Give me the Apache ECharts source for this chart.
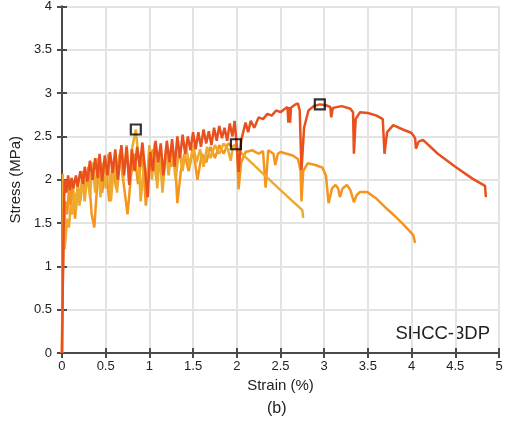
<!DOCTYPE html>
<html><head><meta charset="utf-8">
<script src="https://cdn.jsdelivr.net/npm/echarts@6/dist/echarts.min.js"></script>
<style>html,body{margin:0;padding:0;background:#fff}#c{width:508px;height:425px}</style>
</head><body><div id="c"></div>
<script>
var xTicks = ['0','0.5','1','1.5','2','2.5','3','3.5','4','4.5','5'];
var yTicks = ['0','0.5','1','1.5','2','2.5','3','3.5','4'];

var redCurve = [[0,0],[0.01,0.8],[0.02,1.5],[0.03,2.0],[0.05,1.85],[0.07,2.05],[0.09,1.88],[0.11,2.02],[0.13,1.9],[0.16,2.05],[0.18,1.92],[0.21,2.1],[0.24,1.95],[0.26,2.15],[0.29,1.98],[0.32,2.22],[0.35,2.0],[0.38,2.25],[0.41,2.02],[0.43,2.3],[0.46,1.98],[0.49,2.28],[0.52,2.05],[0.55,2.32],[0.58,2.08],[0.61,2.35],[0.64,2.0],[0.68,2.4],[0.71,2.05],[0.74,2.38],[0.77,1.94],[0.8,2.35],[0.83,2.1],[0.86,2.38],[0.89,2.15],[0.92,2.43],[0.95,2.12],[0.98,1.8],[1.01,2.32],[1.04,2.1],[1.07,2.45],[1.1,2.2],[1.13,2.42],[1.16,2.05],[1.2,2.45],[1.23,2.2],[1.26,2.47],[1.29,2.15],[1.32,2.5],[1.35,2.25],[1.38,2.52],[1.41,2.3],[1.44,2.5],[1.47,2.34],[1.5,2.55],[1.53,2.35],[1.56,2.55],[1.59,2.38],[1.62,2.58],[1.65,2.42],[1.68,2.56],[1.71,2.4],[1.74,2.6],[1.77,2.45],[1.8,2.62],[1.83,2.48],[1.86,2.6],[1.89,2.45],[1.92,2.65],[1.95,2.5],[1.975,2.68],[2.0,2.4],[2.02,2.09],[2.05,2.45],[2.1,2.66],[2.13,2.55],[2.16,2.68],[2.2,2.6],[2.25,2.72],[2.3,2.7],[2.35,2.76],[2.4,2.74],[2.45,2.8],[2.5,2.78],[2.55,2.82],[2.58,2.84],[2.59,2.66],[2.6,2.84],[2.61,2.66],[2.62,2.83],[2.67,2.87],[2.7,2.88],[2.72,2.8],[2.74,2.11],[2.77,2.6],[2.82,2.8],[2.88,2.85],[2.95,2.87],[3.02,2.86],[3.07,2.84],[3.08,2.72],[3.1,2.83],[3.2,2.85],[3.3,2.82],[3.33,2.78],[3.34,2.3],[3.36,2.7],[3.41,2.78],[3.5,2.77],[3.6,2.74],[3.67,2.7],[3.69,2.3],[3.72,2.55],[3.79,2.63],[3.9,2.58],[4.0,2.54],[4.04,2.48],[4.05,2.36],[4.08,2.44],[4.13,2.46],[4.3,2.3],[4.5,2.15],[4.7,2.01],[4.84,1.93],[4.85,1.8]];

var orangeCurve = [[0,0],[0.01,0.9],[0.02,1.3],[0.04,1.75],[0.06,1.6],[0.08,1.9],[0.1,1.7],[0.12,2.0],[0.15,1.55],[0.18,1.95],[0.21,1.75],[0.24,2.1],[0.27,1.85],[0.3,2.15],[0.34,1.6],[0.37,1.45],[0.4,1.9],[0.43,2.2],[0.46,1.85],[0.5,2.2],[0.54,1.75],[0.58,2.15],[0.62,1.9],[0.66,2.3],[0.7,2.0],[0.75,1.6],[0.79,2.05],[0.83,2.3],[0.87,1.95],[0.92,2.3],[0.96,1.7],[1.0,2.2],[1.04,2.35],[1.08,2.0],[1.12,2.3],[1.16,2.05],[1.2,2.35],[1.25,2.15],[1.29,2.3],[1.32,1.73],[1.36,2.1],[1.4,2.3],[1.45,2.1],[1.5,2.35],[1.55,2.0],[1.6,2.3],[1.65,2.2],[1.7,2.38],[1.75,2.25],[1.8,2.4],[1.85,2.3],[1.9,2.42],[1.95,2.38],[2.0,2.41],[2.02,1.89],[2.05,2.2],[2.1,2.32],[2.18,2.34],[2.25,2.3],[2.3,2.33],[2.33,1.91],[2.36,2.34],[2.42,2.3],[2.44,2.17],[2.47,2.3],[2.5,2.32],[2.64,2.28],[2.7,2.24],[2.73,2.1],[2.74,1.75],[2.76,2.1],[2.81,2.19],[2.9,2.17],[2.98,2.14],[3.02,2.05],[3.05,1.73],[3.09,1.9],[3.13,1.94],[3.16,1.9],[3.18,1.8],[3.21,1.9],[3.26,1.94],[3.3,1.88],[3.34,1.74],[3.37,1.82],[3.41,1.86],[3.49,1.86],[3.6,1.78],[3.7,1.68],[3.8,1.59],[3.9,1.49],[4.02,1.36],[4.04,1.27]];

var yellowCurve = [[0,0],[0.005,1.0],[0.01,2.07],[0.03,1.2],[0.06,1.55],[0.08,1.45],[0.1,1.7],[0.12,1.6],[0.14,1.85],[0.16,1.65],[0.18,1.95],[0.2,1.7],[0.23,2.0],[0.26,1.75],[0.29,2.1],[0.32,1.8],[0.35,2.2],[0.38,1.85],[0.41,2.25],[0.44,1.8],[0.47,2.2],[0.5,1.9],[0.53,2.3],[0.56,1.75],[0.6,2.25],[0.63,1.85],[0.67,2.35],[0.7,2.0],[0.74,2.4],[0.77,1.95],[0.8,2.35],[0.845,2.58],[0.88,2.2],[0.9,1.75],[0.94,2.2],[0.97,1.95],[1.0,2.4],[1.03,2.0],[1.06,2.42],[1.09,1.9],[1.12,2.3],[1.15,1.85],[1.19,2.35],[1.22,2.05],[1.26,2.4],[1.3,2.0],[1.34,2.35],[1.38,2.1],[1.42,2.38],[1.46,2.15],[1.5,2.4],[1.54,2.2],[1.58,2.35],[1.62,2.15],[1.66,2.38],[1.7,2.25],[1.75,2.4],[1.8,2.3],[1.85,2.42],[1.9,2.35],[1.93,2.22],[1.96,2.4],[2.04,2.32],[2.3,2.07],[2.5,1.88],[2.75,1.65],[2.76,1.56]];

var peakMarks = [[0.845,2.58],[1.99,2.41],[2.95,2.87]];

var FONT = 'Liberation Sans, Arial, sans-serif';
var chart = echarts.init(document.getElementById('c'));
var axisLine = {show:true, lineStyle:{color:'#4a4a4a', width:2}};
var tick = {show:true, inside:true, length:5, lineStyle:{color:'#4a4a4a',width:2}};
var split = {show:true, lineStyle:{color:'#e3e3e3', width:2}};
chart.setOption({
  animation:false,
  textStyle:{fontFamily:FONT},
  grid:{left:61, right:9, top:6, bottom:72, containLabel:false},
  xAxis:[{
    type:'value', min:0, max:5, interval:0.5,
    axisLine:axisLine, axisTick:tick, splitLine:split,
    axisLabel:{color:'#222', fontSize:13, margin:7, fontFamily:FONT, formatter:function(v){return xTicks[Math.round(v*2)];}},
    name:'Strain (%)', nameLocation:'middle', nameGap:23, nameTextStyle:{color:'#222', fontSize:15, fontFamily:FONT}
  },{
    type:'value', min:0, max:5, interval:0.5, position:'top',
    axisLine:axisLine, axisTick:tick, splitLine:{show:false}, axisLabel:{show:false}
  }],
  yAxis:[{
    type:'value', min:0, max:4, interval:0.5,
    axisLine:axisLine, axisTick:tick, splitLine:split,
    axisLabel:{color:'#222', fontSize:13, margin:10, fontFamily:FONT, formatter:function(v){return yTicks[Math.round(v*2)];}},
    name:'Stress (MPa)', nameLocation:'middle', nameGap:29, nameTextStyle:{color:'#222', fontSize:15, fontFamily:FONT}
  },{
    type:'value', min:0, max:4, interval:0.5, position:'right',
    axisLine:axisLine, axisTick:tick, splitLine:{show:false}, axisLabel:{show:false}
  }],
  series:[
    {type:'line', data:orangeCurve, showSymbol:false, lineStyle:{color:'#F5951E', width:2.5}, z:2},
    {type:'line', data:yellowCurve, showSymbol:false, lineStyle:{color:'#EDAA2E', width:2.5}, z:3},
    {type:'line', data:redCurve, showSymbol:false, lineStyle:{color:'#E8501E', width:2.5}, z:4},
    {type:'scatter', data:peakMarks, symbol:'rect', symbolSize:10, z:6,
     itemStyle:{color:'rgba(0,0,0,0)', borderColor:'#000', borderWidth:2.2}}
  ],
  graphic:[
    {type:'text', right:18, top:324, style:{text:'SHCC-3DP', fontSize:18.5, fill:'#222', fontFamily:FONT}},
    {type:'text', left:267, top:401, style:{text:'(b)', fontSize:16, fill:'#222', fontFamily:FONT}}
  ]
});
</script></body></html>
